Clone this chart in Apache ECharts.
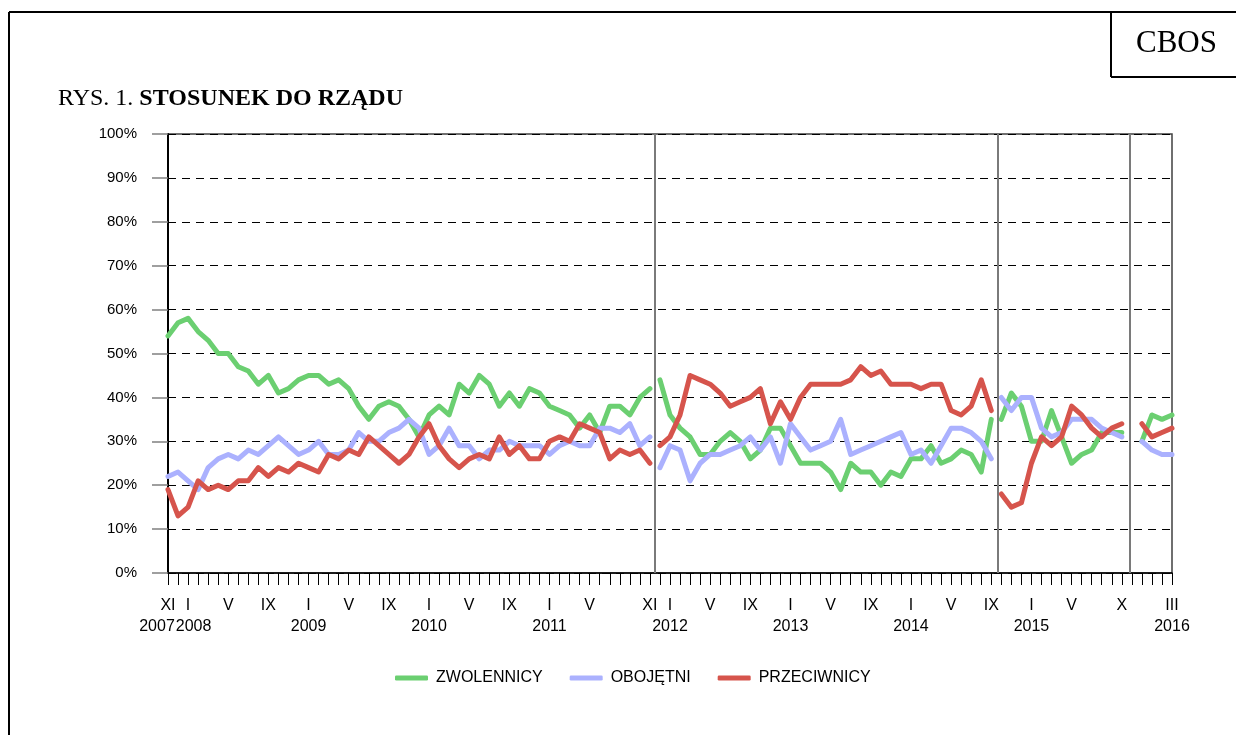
<!DOCTYPE html>
<html>
<head>
<meta charset="utf-8">
<script src="https://cdn.jsdelivr.net/npm/echarts@6/dist/echarts.min.js"></script>
<style>
html, body { margin: 0; padding: 0; background: #fff; }
#chart { width: 1236px; height: 735px; }
</style>
</head>
<body>
<div id="chart"></div>
<script>
var romans = ['I', 'II', 'III', 'IV', 'V', 'VI', 'VII', 'VIII', 'IX', 'X', 'XI', 'XII'];

// kolejne miesiace badan: XI 2007 .. III 2016
var months = [];
(function () {
	var y = 2007, m = 11;
	while (y < 2016 || (y == 2016 && m <= 3)) {
		months.push(romans[m - 1] + ' ' + y);
		m++;
		if (m > 12) { m = 1; y++; }
	}
})();

// podpisy pokazane na osi
var shownLabels = ['XI 2007', 'I 2008', 'V 2008', 'IX 2008', 'I 2009', 'V 2009', 'IX 2009',
	'I 2010', 'V 2010', 'IX 2010', 'I 2011', 'V 2011', 'XI 2011', 'I 2012', 'V 2012', 'IX 2012',
	'I 2013', 'V 2013', 'IX 2013', 'I 2014', 'V 2014', 'IX 2014', 'I 2015', 'V 2015', 'X 2015', 'III 2016'];
var yearLabels = ['XI 2007', 'I 2008', 'I 2009', 'I 2010', 'I 2011', 'I 2012', 'I 2013', 'I 2014', 'I 2015', 'III 2016'];

// zmiany rzadu (pozycje pionowych linii, w miesiacach od XI 2007)
var govBreaks = [48.5, 82.6, 95.8];

var seriesNames = ['ZWOLENNICY', 'OBOJĘTNI', 'PRZECIWNICY'];
var seriesColors = ['#6bcf71', '#abb1fe', '#d6544c'];

var zwolennicy = [54, 57, 58, 55, 53, 50, 50, 47, 46, 43, 45, 41, 42, 44, 45, 45, 43, 44, 42, 38, 35, 38, 39, 38, 35,
	31, 36, 38, 36, 43, 41, 45, 43, 38, 41, 38, 42, 41, 38, 37, 36, 33, 36, 32, 38, 38, 36, 40, 42,
	44, 36, 33, 31, 27, 27, 30, 32, 30, 26, 28, 33, 33, 29, 25, 25, 25, 23, 19,
	25, 23, 23, 20, 23, 22, 26, 26, 29, 25, 26, 28, 27, 23, 35,
	35, 41, 38, 30, 30, 37, 31, 25, 27, 28, 32, 32, 32,
	null, 30, 36, 35, 36];
var obojetni = [22, 23, 21, 19, 24, 26, 27, 26, 28, 27, 29, 31, 29, 27, 28, 30, 27, 27, 28, 32, 30, 30, 32, 33, 35,
	33, 27, 29, 33, 29, 29, 26, 28, 28, 30, 29, 29, 29, 27, 29, 30, 29, 29, 33, 33, 32, 34, 29, 31,
	24, 29, 28, 21, 25, 27, 27, 28, 29, 31, 28, 31, 25, 34, 31, 28, 29, 30, 35,
	27, 28, 29, 30, 31, 32, 27, 28, 25, 29, 33, 33, 32, 30, 26,
	40, 37, 40, 40, 33, 31, 32, 35, 35, 35, 33, 32, 31,
	null, 30, 28, 27, 27];
var przeciwnicy = [19, 13, 15, 21, 19, 20, 19, 21, 21, 24, 22, 24, 23, 25, 24, 23, 27, 26, 28, 27, 31, 29, 27, 25, 27,
	31, 34, 29, 26, 24, 26, 27, 26, 31, 27, 29, 26, 26, 30, 31, 30, 34, 33, 32, 26, 28, 27, 28, 25,
	29, 31, 36, 45, 44, 43, 41, 38, 39, 40, 42, 34, 39, 35, 40, 43, 43, 43, 43,
	44, 47, 45, 46, 43, 43, 43, 42, 43, 43, 37, 36, 38, 44, 37,
	18, 15, 16, 25, 31, 29, 31, 38, 36, 33, 31, 33, 34,
	null, 34, 31, 32, 33];

function buildData(vals) {
	var out = [];
	for (var i = 0; i < vals.length; i++) {
		out.push([i, vals[i] == null ? '-' : vals[i]]);
		for (var k = 0; k < govBreaks.length; k++) {
			if (govBreaks[k] > i && govBreaks[k] < i + 1) out.push([govBreaks[k], '-']);
		}
	}
	return out;
}

var allValues = [zwolennicy, obojetni, przeciwnicy];
var series = [];
for (var s = 0; s < 3; s++) {
	var ser = {
		name: seriesNames[s],
		type: 'line',
		symbol: 'none',
		connectNulls: false,
		data: buildData(allValues[s]),
		lineStyle: { color: seriesColors[s], width: 5, cap: 'round', join: 'round' },
		itemStyle: { color: seriesColors[s] }
	};
	if (s == 0) {
		ser.markLine = {
			silent: true,
			symbol: 'none',
			label: { show: false },
			lineStyle: { color: '#7a7a7a', width: 2, type: 'solid' },
			data: govBreaks.map(function (b) { return { xAxis: b }; })
		};
	}
	series.push(ser);
}

var myChart = echarts.init(document.getElementById('chart'));
var option = {
	backgroundColor: '#fff',
	animation: false,
	title: {
		text: '{n|RYS. 1. }{b|STOSUNEK DO RZĄDU}',
		left: 53,
		top: 82,
		textStyle: {
			rich: {
				n: { fontFamily: 'Liberation Serif', fontSize: 24, color: '#000', fontWeight: 'normal' },
				b: { fontFamily: 'Liberation Serif', fontSize: 24, color: '#000', fontWeight: 'bold' }
			}
		}
	},
	legend: {
		left: 395,
		top: 670,
		padding: 0,
		icon: 'roundRect',
		itemWidth: 33,
		itemHeight: 5,
		itemGap: 27,
		data: seriesNames,
		textStyle: { fontFamily: 'Liberation Sans', fontSize: 16, color: '#000', padding: [0, 0, 0, 3] }
	},
	grid: {
		left: 168,
		right: 64,
		top: 134,
		bottom: 162,
		show: true,
		borderColor: '#404040',
		borderWidth: 1.5
	},
	xAxis: {
		type: 'value',
		min: 0,
		max: months.length - 1,
		interval: 1,
		splitLine: { show: false },
		axisLine: { show: true, onZero: false, lineStyle: { color: '#000', width: 1.5 } },
		axisTick: { show: true, length: 12, lineStyle: { color: '#000', width: 1 } },
		axisLabel: {
			margin: 22,
			fontFamily: 'Liberation Sans',
			fontSize: 16,
			lineHeight: 21,
			color: '#000',
			showMinLabel: true,
			showMaxLabel: true,
			rich: {
				y0: { fontFamily: 'Liberation Sans', fontSize: 16, lineHeight: 21, padding: [0, 22, 0, 0] },
				y1: { fontFamily: 'Liberation Sans', fontSize: 16, lineHeight: 21, padding: [0, 0, 0, 11] }
			},
			formatter: function (v) {
				var idx = Math.round(v);
				var key = months[idx];
				if (shownLabels.indexOf(key) < 0) return '';
				var parts = key.split(' ');
				if (yearLabels.indexOf(key) < 0) return parts[0];
				// dwa pierwsze lata rozsuniete jak w oryginale
				if (key == yearLabels[0]) return parts[0] + '\n{y0|' + parts[1] + '}';
				if (key == yearLabels[1]) return parts[0] + '\n{y1|' + parts[1] + '}';
				return parts[0] + '\n' + parts[1];
			}
		}
	},
	yAxis: {
		type: 'value',
		min: 0,
		max: 100,
		interval: 10,
		axisLine: { show: true, lineStyle: { color: '#000', width: 2 } },
		axisTick: { show: true, length: 16, lineStyle: { color: '#808080', width: 1.5 } },
		axisLabel: {
			margin: 31,
			formatter: '{value}%',
			fontFamily: 'Liberation Sans',
			fontSize: 15,
			color: '#000'
		},
		splitLine: { lineStyle: { color: '#000', width: 1, type: [8, 6] } }
	},
	graphic: [
		{ type: 'line', shape: { x1: 9, y1: 12, x2: 9, y2: 735 }, style: { stroke: '#000', lineWidth: 2 } },
		{ type: 'line', shape: { x1: 9, y1: 12, x2: 1236, y2: 12 }, style: { stroke: '#000', lineWidth: 2 } },
		{ type: 'line', shape: { x1: 1111, y1: 12, x2: 1111, y2: 77 }, style: { stroke: '#000', lineWidth: 2 } },
		{ type: 'line', shape: { x1: 1111, y1: 77, x2: 1236, y2: 77 }, style: { stroke: '#000', lineWidth: 2 } },
		{
			type: 'text', left: 1136, top: 28,
			style: { text: 'CBOS', font: '31px "Liberation Serif"', fill: '#000' }
		}
	],
	series: series
};
myChart.setOption(option);
</script>
</body>
</html>
